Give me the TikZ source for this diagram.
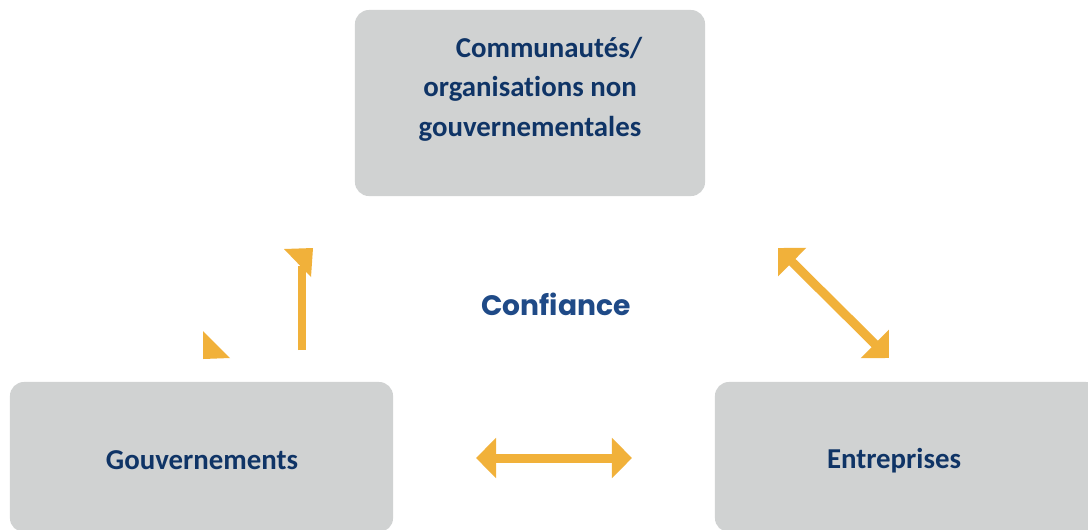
\documentclass[tikz,border=0pt]{standalone}
\usepackage{fontspec}
\setmainfont{Carlito}[Ligatures=NoCommon]
\newfontfamily\poppins{Poppins}[Ligatures=NoCommon]
\usetikzlibrary{arrows.meta}

\definecolor{boxgrey}{HTML}{D0D2D2}
\definecolor{navy}{HTML}{0F3466}
\definecolor{midblue}{HTML}{1F4A87}
\definecolor{amber}{HTML}{F1B13A}

\tikzset{
  actor/.style={fill=boxgrey, rounded corners=0.35cm, inner sep=0pt},
  actortext/.style={text=navy, font=\fontsize{20.5}{28}\selectfont\bfseries, align=center},
  link/.style={draw=amber, line width=0.225cm,
    {Triangle[length=0.5cm,width=0.975cm]}-{Triangle[length=0.5cm,width=0.975cm]}},
}

\begin{document}
\begin{tikzpicture}[x=0.025cm, y=-0.025cm]
\clip (0,0) rectangle (1088,529);
\fill[white] (0,0) rectangle (1088,529);
% the three actors
\node[actor, minimum width=8.75cm, minimum height=4.65cm] (ong) at (530,103) {};
\node[actor, minimum width=9.575cm, minimum height=3.75cm] (gov) at (201.5,457) {};
\node[actor, minimum width=9.625cm, minimum height=3.75cm] (ent) at (907.5,457) {};
\node[actortext] (ongtxt) at (530,89) {\hspace*{0.95cm}Communautés/\\organisations non\\gouvernementales};
\node[actortext] (govtxt) at (202,460) {Gouvernements};
\node[actortext] (enttxt) at (894,461) {Entreprises};
\node[text=midblue, font=\poppins\fontsize{20}{24}\selectfont\bfseries] (trust) at (556,304) {Confiance};

% arrow ends
\coordinate (govL) at (476,458);
\coordinate (entL) at (632,458);
\coordinate (ongR) at (778,248);
\coordinate (entT) at (889,358);
\coordinate (govT) at (302,350);
\coordinate (ongL) at (302,266);

\draw[link] (govL) -- (entL);
\draw[link] (ongR) -- (entT);

% broken left link
\draw[amber, line width=0.2cm] (govT) -- (ongL);
\fill[amber] (284,249) -- (313,248) -- (311,277) -- cycle;
\fill[amber] (203,331) -- (203,359) -- (230,358) -- cycle;
\end{tikzpicture}
\end{document}
